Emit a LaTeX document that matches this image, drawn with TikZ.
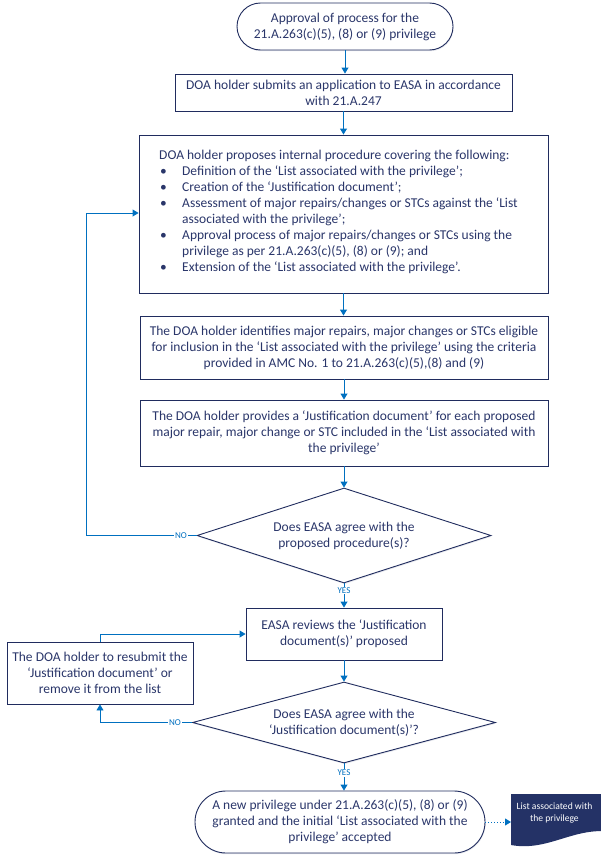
\documentclass[tikz,border=0pt]{standalone}
\usepackage{fontspec}
\setmainfont{Carlito}
\usetikzlibrary{shapes.geometric,arrows.meta,shadows}
\definecolor{navy}{RGB}{32,44,94}
\definecolor{txt}{RGB}{42,54,106}
\definecolor{flowblue}{RGB}{0,112,192}
\definecolor{docfill}{RGB}{36,50,102}
\newcommand\bul{\makebox[23pt][l]{\hspace*{1pt}\textbullet}}
\tikzset{
  shade/.style={drop shadow={shadow xshift=0.6pt,shadow yshift=-1.2pt,opacity=0.22,fill=navy!50}},
  box/.style={draw=navy, line width=0.9pt, fill=white, text=txt, align=center, inner sep=0pt,
    font=\fontsize{13.5}{16}\selectfont, shade},
  term/.style={box},
  decision/.style={box, shape=diamond, aspect=3},
  flow/.style={draw=flowblue, line width=0.9pt, -{Triangle[width=7pt,length=6pt]}},
  dotflow/.style={flow, dotted, line width=1pt},
  lbl/.style={text=flowblue, fill=white, inner sep=1pt, font=\fontsize{9}{10}\selectfont},
  btext/.style={text=txt, align=left, inner sep=0pt, font=\fontsize{13.5}{16}\selectfont}
}
\begin{document}
\begin{tikzpicture}[x=1pt,y=-1pt]
\useasboundingbox (0,0) rectangle (600,862);
% nodes
\node[term, rounded corners=23.5pt, minimum width=216pt, minimum height=47pt] (t1) at (345,26.5)
  {Approval of process for the\\21.A.263(c)(5), (8) or (9) privilege};
\node[box, minimum width=337pt, minimum height=37pt] (b2) at (343.5,92.5)
  {DOA holder submits an application to EASA in accordance\\with 21.A.247};
\node[box, minimum width=409pt, minimum height=158pt] (b3) at (343.5,214) {};
\node[btext, anchor=west] (b3t) at (159,212)
  {DOA holder proposes internal procedure covering the following:\\
   \bul Definition of the ‘List associated with the privilege’;\\
   \bul Creation of the ‘Justification document’;\\
   \bul Assessment of major repairs/changes or STCs against the ‘List\\
   \hspace*{23pt}associated with the privilege’;\\
   \bul Approval process of major repairs/changes or STCs using the\\
   \hspace*{23pt}privilege as per 21.A.263(c)(5), (8) or (9); and\\
   \bul Extension of the ‘List associated with the privilege’.};
\node[box, minimum width=408pt, minimum height=63pt] (b4) at (344,347.5)
  {The DOA holder identifies major repairs, major changes or STCs eligible\\
   for inclusion in the ‘List associated with the privilege’ using the criteria\\
   provided in AMC No. 1 to 21.A.263(c)(5),(8) and (9)};
\node[box, minimum width=408pt, minimum height=66pt] (b5) at (344,433)
  {The DOA holder provides a ‘Justification document’ for each proposed\\
   major repair, major change or STC included in the ‘List associated with\\
   the privilege’};
\node[decision, minimum width=294pt, minimum height=95pt] (d1) at (344,535.5)
  {Does EASA agree with the\\proposed procedure(s)?};
\node[box, minimum width=196pt, minimum height=52pt] (b6) at (344,634)
  {EASA reviews the ‘Justification\\document(s)’ proposed};
\node[box, minimum width=186pt, minimum height=62pt] (b7) at (100,673)
  {The DOA holder to resubmit the\\‘Justification document’ or\\remove it from the list};
\node[decision, minimum width=303pt, minimum height=81pt] (d2) at (344,722.5)
  {Does EASA agree with the\\‘Justification document(s)’?};
\node[term, rounded corners=31pt, minimum width=290pt, minimum height=62pt] (t2) at (340,822)
  {A new privilege under 21.A.263(c)(5), (8) or (9)\\
   granted and the initial ‘List associated with the\\
   privilege’ accepted};
% document shape
\fill[docfill] (511,794) -- (612,794) -- (612,832)
  .. controls (575,826) and (548,852) .. (511,845) -- cycle;
\node[text=white, align=center, inner sep=0pt, font=\fontsize{9.6}{12.5}\selectfont] (doc) at (554.5,813)
  {List associated with\\the privilege};
\coordinate (docin) at (511,822);
% connectors
\draw[flow] (t1.south) -- (t1.south |- b2.north);
\draw[flow] (b2.south) -- (b2.south |- b3.north);
\draw[flow] (b3.south) -- (b3.south |- b4.north);
\draw[flow] (b4.south) -- (b4.south |- b5.north);
\draw[flow] (b5.south) -- (b5.south |- d1.north);
\draw[flow] (d1.south) -- (d1.south |- b6.north);
\draw[flow] (b6.south) -- (b6.south |- d2.north);
\draw[flow] (d2.south) -- (d2.south |- t2.north);
\coordinate (c1) at (86,213);
\draw[flow] (d1.west) -| (c1) -- (c1 -| b3.west);
\draw[flow] (d2.west) -| (b7.south);
\draw[flow] (b7.north) |- (b6.west);
\draw[dotflow] (t2.east) -- (docin);
% labels
\node[lbl] (no1) at (181,535.5) {NO};
\node[lbl] (no2) at (175,722.5) {NO};
\node[lbl] (yes1) at (344,590.5) {YES};
\node[lbl] (yes2) at (344,773) {YES};
\end{tikzpicture}
\end{document}
